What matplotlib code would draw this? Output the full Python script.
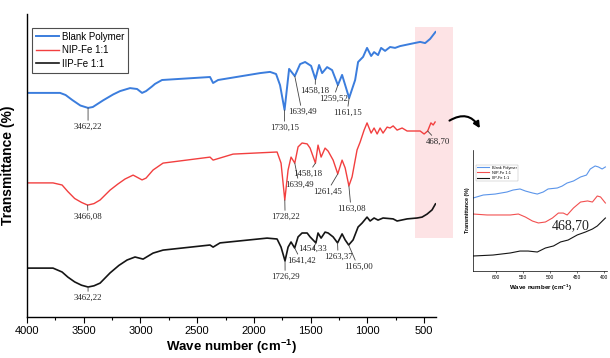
import matplotlib
matplotlib.use("Agg")
import matplotlib.pyplot as plt
from matplotlib.patches import Rectangle, FancyArrowPatch

plt.rcParams['font.family'] = ['Liberation Sans', 'DejaVu Sans']
plt.rcParams['mathtext.fontset'] = 'custom'
plt.rcParams['mathtext.rm'] = 'Liberation Sans'
plt.rcParams['mathtext.bf'] = 'Liberation Sans:bold'

# spectra (wave number, transmittance in arbitrary %)
blue_wn = [4000, 3709, 3660, 3600, 3530, 3462, 3420, 3330, 3240, 3180, 3092, 3030, 2986, 2951,
           2900, 2872, 2810, 2387, 2360, 2316, 1946, 1858, 1805, 1770, 1730, 1690, 1640, 1593,
           1549, 1496, 1458, 1426, 1399, 1355, 1311, 1260, 1223, 1161, 1108, 1082, 1038, 1003,
           967, 941, 906, 879, 844, 800, 756, 712, 624, 535, 491, 447, 400]
blue_t = [74.7, 74.7, 74.0, 72.3, 70.5, 69.7, 70.0, 72.2, 74.2, 75.3, 76.3, 76.0, 74.7, 75.3,
          76.8, 77.7, 79.0, 80.0, 78.0, 79.0, 81.3, 81.7, 81.0, 77.3, 69.0, 82.7, 80.3, 84.3,
          85.0, 83.7, 79.3, 84.0, 81.3, 83.3, 82.3, 77.3, 80.7, 73.0, 79.0, 85.0, 86.7, 89.7,
          87.0, 88.3, 87.3, 89.7, 88.7, 90.0, 89.7, 90.3, 91.0, 91.7, 91.3, 92.7, 95.0]

red_wn = [4000, 3771, 3691, 3640, 3580, 3520, 3466, 3410, 3356, 3268, 3200, 3136, 3065, 2986,
          2951, 2889, 2801, 2387, 2360, 2184, 1796, 1761, 1728, 1699, 1673, 1640, 1611, 1576,
          1531, 1505, 1458, 1435, 1408, 1373, 1346, 1302, 1261, 1223, 1196, 1163, 1135, 1091,
          1064, 1029, 1003, 967, 941, 914, 888, 862, 826, 800, 773, 738, 694, 650, 562, 535,
          500, 468.7, 440, 420, 403]
red_t = [44.7, 44.7, 44.0, 41.8, 39.5, 38.2, 37.3, 37.8, 39.0, 42.3, 44.3, 46.0, 47.3, 45.7,
         46.3, 49.0, 51.3, 53.3, 52.3, 54.3, 55.0, 51.3, 39.0, 49.0, 53.3, 51.3, 56.7, 58.0,
         57.7, 56.3, 51.3, 57.3, 53.3, 56.3, 55.3, 52.3, 47.7, 52.3, 49.7, 43.7, 46.7, 55.7,
         58.3, 62.3, 64.7, 61.3, 63.0, 61.0, 63.0, 61.3, 63.3, 63.0, 63.7, 62.3, 63.0, 62.0,
         62.0, 62.0, 61.0, 62.0, 64.7, 64.0, 65.0]

black_wn = [4000, 3771, 3691, 3640, 3580, 3520, 3462, 3410, 3356, 3268, 3190, 3118, 3048, 2977,
            2889, 2801, 2387, 2360, 2299, 1884, 1796, 1761, 1726, 1699, 1673, 1641, 1611, 1576,
            1531, 1505, 1454, 1435, 1408, 1373, 1346, 1302, 1263, 1223, 1196, 1165, 1126, 1082,
            1047, 1003, 976, 941, 906, 862, 773, 738, 650, 562, 518, 474, 430, 400]
black_t = [16.3, 16.3, 15.0, 13.3, 11.7, 10.6, 10.0, 10.4, 11.3, 14.7, 17.2, 19.0, 20.0, 19.3,
           21.3, 22.3, 24.0, 23.3, 24.7, 26.3, 26.0, 23.3, 18.7, 23.3, 25.0, 23.0, 26.7, 28.0,
           28.0, 26.7, 24.7, 28.0, 26.3, 28.3, 28.0, 26.7, 24.7, 27.7, 25.7, 24.0, 25.7, 30.0,
           31.3, 33.3, 32.0, 33.0, 32.3, 33.0, 32.7, 32.0, 32.7, 33.0, 33.3, 34.3, 35.7, 37.7]

# zoomed inset (650-400 cm-1)
in_blue_wn = [643, 624, 602, 580, 569, 556, 546, 533, 524, 513, 504, 487, 478, 469, 457, 444,
              433, 426, 417, 411, 404, 398]
in_blue_t = [60.3, 62.8, 63.6, 65.3, 66.9, 67.8, 66.1, 64.5, 63.6, 65.3, 67.8, 68.6, 70.2, 72.7,
             74.4, 77.7, 79.3, 84.3, 86.8, 86.0, 84.3, 86.0]
in_red_wn = [643, 617, 574, 559, 546, 533, 522, 509, 496, 485, 476, 468.7, 457, 444, 431, 422,
             413, 407, 398]
in_red_t = [47.1, 46.3, 46.3, 47.1, 44.6, 41.3, 39.7, 40.5, 43.8, 47.9, 47.9, 46.3, 52.1, 57.0,
            57.9, 57.0, 62.0, 61.2, 56.2]
in_black_wn = [643, 606, 574, 556, 541, 524, 509, 494, 481, 467, 450, 435, 422, 413, 398]
in_black_t = [12.4, 13.2, 14.9, 16.5, 16.5, 15.7, 19.0, 20.7, 24.0, 25.6, 29.8, 32.2, 34.7,
              37.2, 43.8]

series = [("Blank Polymer", blue_wn, blue_t, "#3b7ddd", 1.4),
          ("NIP-Fe 1:1", red_wn, red_t, "#f23f3f", 1.0),
          ("IIP-Fe 1:1", black_wn, black_t, "#151515", 1.2)]
inset_series = [(in_blue_wn, in_blue_t, "#5b95ea"),
                (in_red_wn, in_red_t, "#f25050"),
                (in_black_wn, in_black_t, "#151515")]

# peak labels: text, peak (wn, T), text position (wn, T)
peaks = [("3462,22", 3462, 69.7, 3462, 63.3), ("1730,15", 1730, 69.0, 1730, 63.0),
         ("1639,49", 1640, 80.3, 1576, 68.3), ("1458,18", 1458, 79.3, 1461, 75.3),
         ("1259,52", 1260, 77.3, 1302, 72.7), ("1161,15", 1161, 73.0, 1179, 68.0),
         ("3466,08", 3466, 37.3, 3462, 33.3), ("1728,22", 1728, 39.0, 1725, 33.3),
         ("1639,49", 1640, 51.3, 1602, 44.0), ("1458,18", 1458, 51.3, 1523, 47.7),
         ("1261,45", 1261, 47.7, 1355, 41.7), ("1163,08", 1163, 43.7, 1144, 36.0),
         ("468,70", 468.7, 62.0, 377, 58.3),
         ("3462,22", 3462, 10.0, 3462, 6.3), ("1726,29", 1726, 18.7, 1725, 13.3),
         ("1641,42", 1641, 23.0, 1584, 18.7), ("1454,33", 1454, 24.7, 1479, 22.7),
         ("1263,37", 1263, 24.7, 1258, 20.0), ("1165,00", 1165, 24.0, 1082, 16.7)]

fig = plt.figure(figsize=(6.10, 3.58), dpi=100)
ax = fig.add_axes([0.0443, 0.1145, 0.6705, 0.8464])

# highlighted region
ax.add_patch(Rectangle((245, 26.3), 335, 70.4, facecolor="#fde3e5", edgecolor="none",
                       clip_on=False, zorder=0))

for name, wn, t, c, lw in series:
    ax.plot(wn, t, color=c, lw=lw, label=name, zorder=2)

for txt, px, py, tx, ty in peaks:
    ax.annotate(txt, xy=(px, py), xytext=(tx, ty), ha="center", va="center",
                fontsize=6.3, family="Liberation Serif", color="#222222",
                arrowprops=dict(arrowstyle="-", lw=0.6, color="#444444",
                                shrinkA=0, shrinkB=0), zorder=3)

ax.set_xlim(4000, 395)
ax.set_ylim(0, 101)
ax.set_xticks([4000, 3500, 3000, 2500, 2000, 1500, 1000, 500])
ax.set_xticks([3750, 3250, 2750, 2250, 1750, 1250, 750], minor=True)
ax.tick_params(axis="x", which="major", direction="out", length=4, width=0.8, labelsize=8, pad=2.5)
ax.tick_params(axis="x", which="minor", direction="out", length=2.5, width=0.8)
ax.set_yticks([])
for s in ["top", "right"]:
    ax.spines[s].set_visible(False)
ax.spines["left"].set_linewidth(1.0)
ax.spines["bottom"].set_linewidth(1.0)
ax.set_xlabel(r"Wave number (cm$\mathbf{^{-1}}$)", fontsize=9.5, fontweight="bold", labelpad=1)
ax.set_ylabel("Transmittance (%)", fontsize=10, fontweight="bold", labelpad=9)

leg = ax.legend(loc="upper left", bbox_to_anchor=(0.012, 0.954), fontsize=7, frameon=True,
                fancybox=False, edgecolor="#222222", handlelength=2.4, labelspacing=0.35,
                borderpad=0.4, handletextpad=0.3, borderaxespad=0)
leg.get_frame().set_linewidth(0.8)

# curved arrow to the inset
arrow = FancyArrowPatch((0.733, 0.659), (0.789, 0.635), transform=fig.transFigure,
                        connectionstyle="arc3,rad=-0.55", arrowstyle="-|>",
                        mutation_scale=9, lw=1.5, color="black")
fig.patches.append(arrow)

# inset
ax2 = fig.add_axes([0.7754, 0.243, 0.2197, 0.338])
for (wn, t, c), (name, *_rest) in zip(inset_series, series):
    ax2.plot(wn, t, color=c, lw=0.8, label=name)
ax2.set_xlim(643, 395)
ax2.set_ylim(0, 100)
ax2.set_xticks([600, 550, 500, 450, 400])
ax2.set_yticks([])
ax2.tick_params(axis="x", length=1.5, width=0.4, labelsize=3.5, pad=1.5)
for s in ["top", "right"]:
    ax2.spines[s].set_visible(False)
ax2.spines["left"].set_linewidth(0.5)
ax2.spines["bottom"].set_linewidth(0.5)
ax2.set_xlabel(r"Wave number (cm$\mathbf{^{-1}}$)", fontsize=4.5, fontweight="bold", labelpad=2)
ax2.set_ylabel("Transmittance (%)", fontsize=3.8, fontweight="bold", labelpad=2)
ax2.text(463, 37.2, "468,70", ha="center", va="center", fontsize=10,
         family="Liberation Serif", color="#222222")
leg2 = ax2.legend(loc="upper left", bbox_to_anchor=(0.02, 0.88), fontsize=2.8, frameon=True,
                  fancybox=False, edgecolor="#999999", handlelength=3, labelspacing=0.3,
                  borderpad=0.3, borderaxespad=0)
leg2.get_frame().set_linewidth(0.3)

fig.savefig("out.png", dpi=100)
